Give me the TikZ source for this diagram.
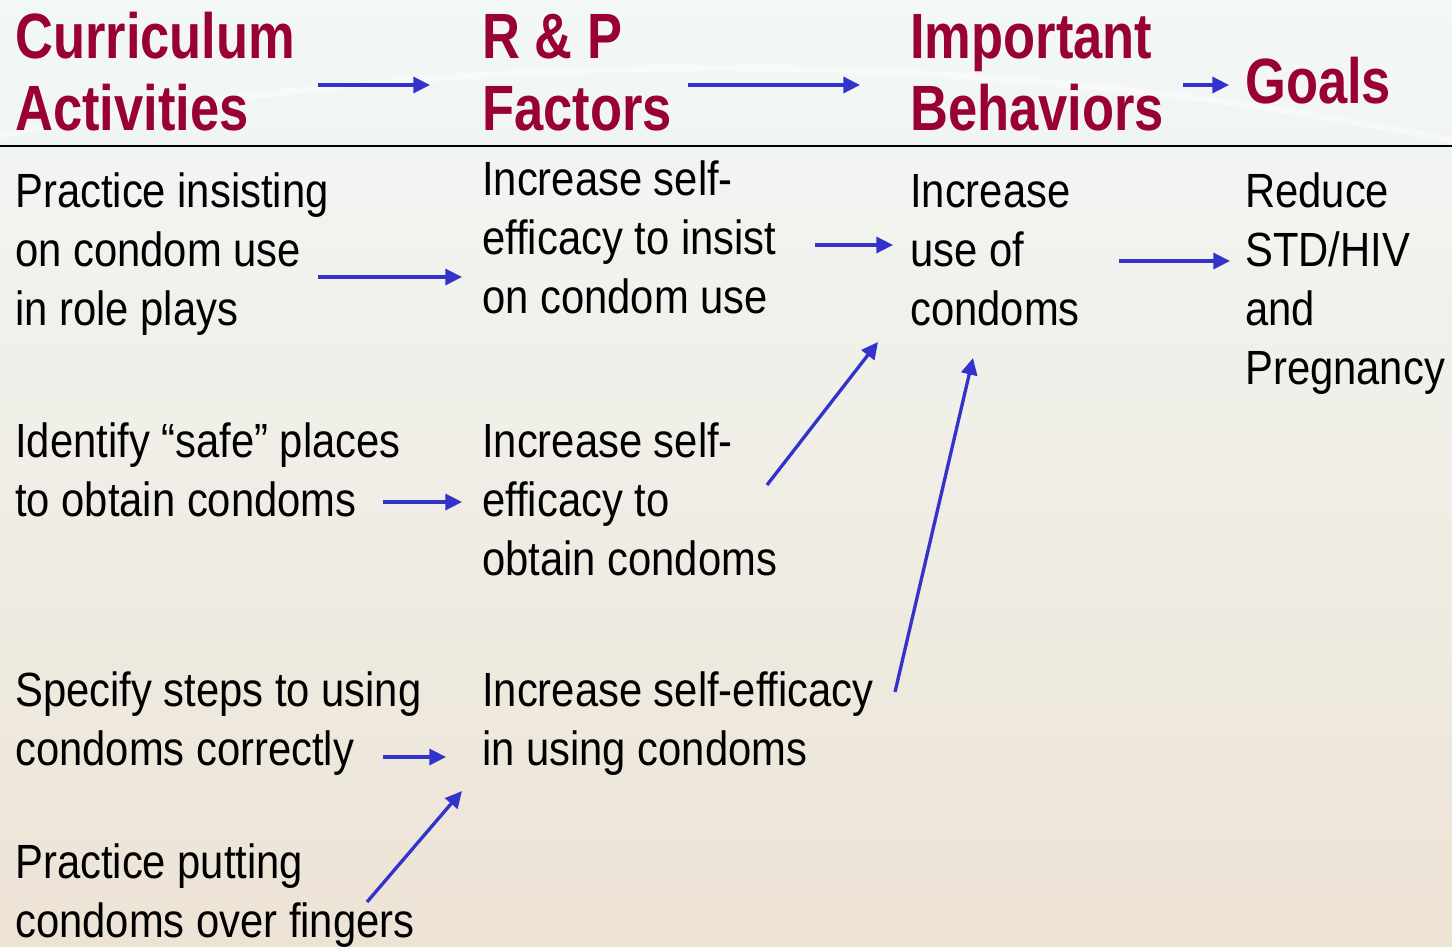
\documentclass[tikz,border=0pt]{standalone}
\usepackage{fontspec}
\setmainfont{Liberation Sans}[FakeStretch=0.87]
\newfontfamily\headfont{Liberation Sans}[FakeStretch=0.82]
\usetikzlibrary{arrows.meta, calc}
\definecolor{headred}{HTML}{990033}
\definecolor{arrowblue}{HTML}{3333CC}
\definecolor{bgtop}{HTML}{F2F8F7}
\definecolor{bgmid}{HTML}{F3F2E8}
\definecolor{bgbot}{HTML}{EDE3D5}

\begin{document}
\begin{tikzpicture}[x=0.75pt, y=-0.75pt,
  head/.style={anchor=base west, inner sep=0pt, align=left, text=headred, font=\fontsize{48}{54}\headfont\bfseries},
  item/.style={anchor=base west, inner sep=0pt, align=left, text=black, font=\fontsize{36}{44.25}\selectfont},
  arrow/.style={-{Triangle[length=12.5pt,width=12pt]}, line width=2.5pt, color=arrowblue}
]
\useasboundingbox (0,0) rectangle (1452,946);
\clip (0,0) rectangle (1452,946);
% background
\shade[top color=bgtop, middle color=bgmid, bottom color=bgbot] (0,0) rectangle (1452,946);
\draw[white, line width=5pt, opacity=0.45] (0,135) .. controls (450,50) and (950,40) .. (1452,140);

% column heads (placed at the baseline of the last line)
\node[head] (cur)  at (15,130)  {Curriculum\\Activities};
\node[head] (rp)   at (482,130) {R \& P\\Factors};
\node[head] (beh)  at (910,130) {Important\\Behaviors};
\node[head] (goal) at (1245,103) {Goals};
\draw[line width=1.6pt] (0,146) -- (1452,146);

% activities
\node[item] (act1) at (15,325) {Practice insisting\\on condom use\\in role plays};
\node[item] (act2) at (15,516) {Identify “safe” places\\to obtain condoms};
\node[item] (act3) at (15,765) {Specify steps to using\\condoms correctly};
\node[item] (act4) at (15,937) {Practice putting\\condoms over fingers};

% risk and protective factors
\node[item] (rp1) at (482,313) {Increase self-\\efficacy to insist\\on condom use};
\node[item] (rp2) at (482,575) {Increase self-\\efficacy to\\obtain condoms};
\node[item] (rp3) at (482,765) {Increase self-efficacy\\in using condoms};

% behavior and goal
\node[item] (beh1)  at (910,325)  {Increase\\use of\\condoms};
\node[item] (goal1) at (1245,384) {Reduce\\STD/HIV\\and\\Pregnancy};

% links between heads
\draw[arrow] ($(cur.base west)+(303,-45)$) -- ($(rp.base west)+(-52,-45)$);
\draw[arrow] ($(rp.base west)+(206,-45)$) -- ($(beh.base west)+(-50,-45)$);
\draw[arrow] ($(beh.base west)+(273,-45)$) -- ($(goal.base west)+(-16,-18)$);

% links in the body
\draw[arrow] ($(act1.base west)+(303,-48)$) -- ($(rp1.base west)+(-20,-36)$);
\draw[arrow] ($(act2.base west)+(368,-14)$) -- ($(rp2.base west)+(-20,-73)$);
\draw[arrow] ($(act3.base west)+(368,-8)$) -- ($(rp3.base west)+(-36,-8)$);
\draw[arrow] ($(act4.base west)+(352,-35)$) -- ($(rp3.base west)+(-20,26)$);
\draw[arrow] ($(rp1.base west)+(333,-68)$) -- ($(beh1.base west)+(-17,-80)$);
\draw[arrow] ($(rp2.base west)+(285,-90)$) -- ($(beh1.base west)+(-32,17)$);
\draw[arrow] ($(rp3.base west)+(413,-73)$) -- ($(beh1.base west)+(63,33)$);
\draw[arrow] ($(beh1.base west)+(209,-64)$) -- ($(goal1.base west)+(-15,-123)$);
\end{tikzpicture}
\end{document}
